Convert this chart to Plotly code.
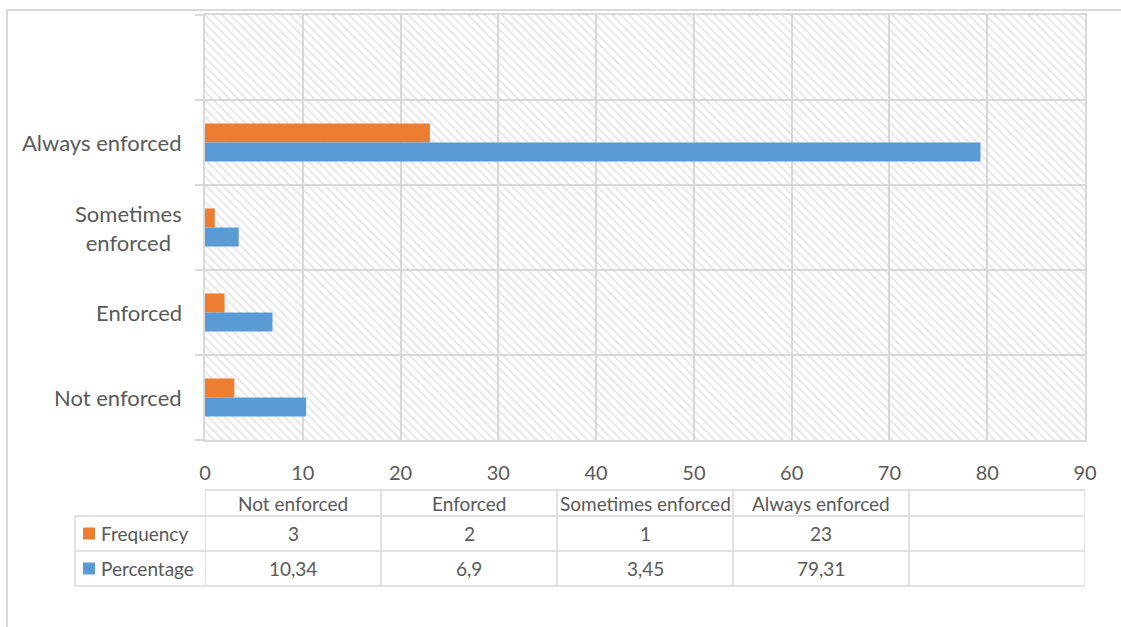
import plotly.graph_objects as go

# Survey results: enforcement level
categories = ["Not enforced", "Enforced", "Sometimes enforced", "Always enforced"]
axis_labels = ["Not enforced", "Enforced", "Sometimes<br>enforced", "Always enforced"]
frequency = [3, 2, 1, 23]
percentage = [10.34, 6.9, 3.45, 79.31]
series_names = ["Frequency", "Percentage"]
x_ticks = [0, 10, 20, 30, 40, 50, 60, 70, 80, 90]

ORANGE = "#ED7D31"
BLUE = "#5B9BD5"
GRID = "#D9D9D9"
TEXT = "#595959"
FONT = "Lato"

W, H = 1121, 627
ML, MR, MT, MB = 205, 36, 15, 187
PW, PH = W - ML - MR, H - MT - MB
X_MAX = x_ticks[-1]
n_slots = len(categories) + 1          # one empty slot on top
col_w = X_MAX / n_slots                # table columns follow the category slots


def xp(px):
    return (px - ML) / PW


def yp(py):
    return (H - MB - py) / PH


def fmt(v):
    return str(v).replace(".", ",")


BAR_W = 0.224
ypos = list(range(len(categories)))

fig = go.Figure()

# hatched plot background
fig.add_trace(go.Bar(
    y=list(range(n_slots)), x=[X_MAX] * n_slots, orientation="h", width=1,
    marker=dict(color="rgba(0,0,0,0)", line=dict(width=0),
                pattern=dict(shape="\\", fgcolor="#D0D0D0", bgcolor="rgba(0,0,0,0)",
                             size=6, solidity=0.36)),
    hoverinfo="skip", showlegend=False,
))

fig.add_trace(go.Bar(
    y=ypos, x=frequency, orientation="h", name=series_names[0],
    width=BAR_W, offset=0, marker=dict(color=ORANGE, line=dict(width=0)),
))
fig.add_trace(go.Bar(
    y=ypos, x=percentage, orientation="h", name=series_names[1],
    width=BAR_W, offset=-BAR_W, marker=dict(color=BLUE, line=dict(width=0)),
))

boundaries = [i - 0.5 for i in range(n_slots + 1)]

fig.update_layout(
    width=W, height=H,
    margin=dict(l=ML, r=MR, t=MT, b=MB),
    paper_bgcolor="white", plot_bgcolor="white",
    barmode="overlay", showlegend=False,
    font=dict(family=FONT, color=TEXT),
    xaxis=dict(range=[0, X_MAX], tickvals=x_ticks, showgrid=True, gridcolor=GRID,
               gridwidth=1.5, zeroline=False, showline=True, mirror=True,
               linecolor=GRID, linewidth=1.5, ticks="",
               tickfont=dict(size=20, color=TEXT, family=FONT), ticklabelstandoff=14),
    yaxis=dict(range=[-0.5, n_slots - 0.5], tickvals=boundaries,
               ticktext=[""] * len(boundaries), showgrid=True, gridcolor=GRID,
               gridwidth=1.5, zeroline=False, showline=True, mirror=True,
               linecolor=GRID, linewidth=1.5, ticks="outside", ticklen=8,
               tickcolor=GRID, tickwidth=1.5),
)

annotations = []
shapes = []

# category labels on the left
for i, lab in enumerate(axis_labels):
    annotations.append(dict(
        x=0, xref="paper", xshift=-21, xanchor="right", y=i, yref="y",
        yanchor="middle", text=lab, align="center", showarrow=False,
        font=dict(size=22, color=TEXT, family=FONT)))

# data table
T_TOP, T_HDR, T_R1, T_R2 = 490, 516, 551, 586
LEG_L = 75
line = dict(color=GRID, width=1.5)

for py in (T_TOP,):
    shapes.append(dict(type="line", xref="x", yref="paper", x0=0, x1=X_MAX,
                       y0=yp(py), y1=yp(py), line=line))
for py in (T_HDR, T_R1, T_R2):
    shapes.append(dict(type="line", xref="paper", yref="paper", x0=xp(LEG_L), x1=1,
                       y0=yp(py), y1=yp(py), line=line))
for j in range(n_slots + 1):
    shapes.append(dict(type="line", xref="x", yref="paper", x0=j * col_w, x1=j * col_w,
                       y0=yp(T_TOP), y1=yp(T_R2), line=line))
shapes.append(dict(type="line", xref="paper", yref="paper", x0=xp(LEG_L), x1=xp(LEG_L),
                   y0=yp(T_HDR), y1=yp(T_R2), line=line))

tfont = dict(size=19, color=TEXT, family=FONT)
for j, cat in enumerate(categories):
    cx = j * col_w + col_w / 2
    annotations.append(dict(x=cx, xref="x", y=yp((T_TOP + T_HDR) / 2), yref="paper",
                            text=cat, showarrow=False, font=tfont,
                            xanchor="center", yanchor="middle"))
    annotations.append(dict(x=cx, xref="x", y=yp((T_HDR + T_R1) / 2), yref="paper",
                            text=fmt(frequency[j]), showarrow=False, font=tfont,
                            xanchor="center", yanchor="middle"))
    annotations.append(dict(x=cx, xref="x", y=yp((T_R1 + T_R2) / 2), yref="paper",
                            text=fmt(percentage[j]), showarrow=False, font=tfont,
                            xanchor="center", yanchor="middle"))

# legend keys inside the table
for name, color, (r0, r1) in zip(series_names, [ORANGE, BLUE],
                                 [(T_HDR, T_R1), (T_R1, T_R2)]):
    cy = (r0 + r1) / 2
    shapes.append(dict(type="rect", xref="paper", yref="paper",
                       x0=xp(83), x1=xp(95), y0=yp(cy - 6), y1=yp(cy + 6),
                       fillcolor=color, line=dict(width=0)))
    annotations.append(dict(x=xp(99), xref="paper", y=yp(cy), yref="paper",
                            text=name, showarrow=False, font=tfont,
                            xanchor="left", yanchor="middle"))

# chart frame
shapes.append(dict(type="rect", xref="paper", yref="paper",
                   x0=xp(7), x1=xp(W + 20), y0=yp(10), y1=yp(H + 20),
                   line=dict(color=GRID, width=2), fillcolor="rgba(0,0,0,0)"))

fig.update_layout(annotations=annotations, shapes=shapes)
fig.write_html("out.html")
